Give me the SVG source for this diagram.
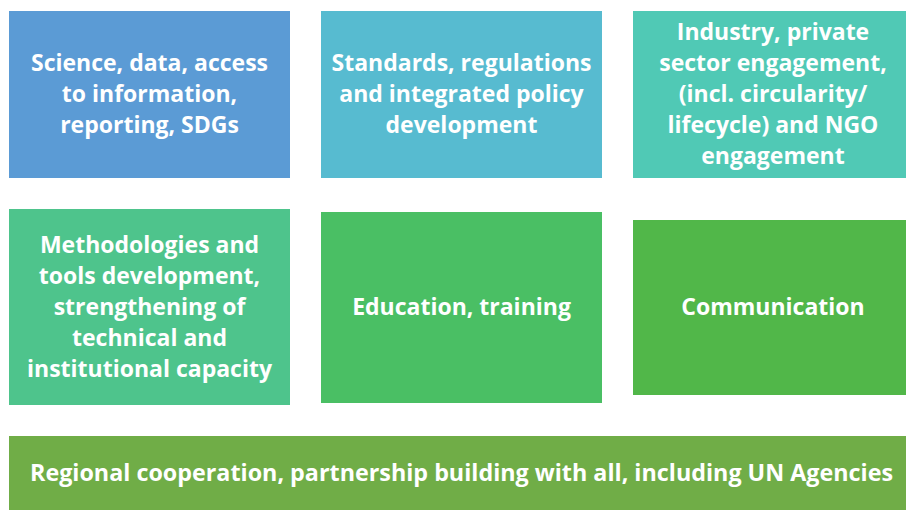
<svg xmlns="http://www.w3.org/2000/svg" width="906" height="510" viewBox="0 0 906 510">
<style>
text{font-family:"Open Sans","Liberation Sans",sans-serif;font-weight:700;font-size:23px;fill:#fff;text-anchor:middle}
</style>
<rect width="906" height="510" fill="#fff"/>
<g id="n1"><rect x="9" y="11" width="281" height="167" fill="#5B9BD5"/>
<text x="149.5" y="71">Science, data, access</text><text x="149.5" y="102">to information,</text><text x="149.5" y="133">reporting, SDGs</text></g>
<g id="n2"><rect x="321" y="11" width="281" height="167" fill="#57BBD0"/>
<text x="461.5" y="71">Standards, regulations</text><text x="461.5" y="102">and integrated policy</text><text x="461.5" y="133">development</text></g>
<g id="n3"><rect x="633" y="11" width="273" height="167" fill="#50C9B5"/>
<text x="773" y="40">Industry, private</text><text x="773" y="71">sector engagement,</text><text x="773" y="102">(incl. circularity/</text><text x="773" y="133">lifecycle) and NGO</text><text x="773" y="164">engagement</text></g>
<g id="n4"><rect x="9" y="209" width="281" height="196" fill="#4EC48C"/>
<text x="149.5" y="253">Methodologies and</text><text x="149.5" y="284">tools development,</text><text x="149.5" y="315">strengthening of</text><text x="149.5" y="346">technical and</text><text x="149.5" y="377">institutional capacity</text></g>
<g id="n5"><rect x="321" y="212" width="281" height="191" fill="#4ABF64"/>
<text x="461.5" y="315">Education, training</text></g>
<g id="n6"><rect x="633" y="220" width="273" height="175" fill="#51B749"/>
<text x="773" y="315">Communication</text></g>
<g id="n7"><rect x="9" y="436" width="897" height="74" fill="#70AD47"/>
<text x="461.5" y="481" textLength="863" lengthAdjust="spacingAndGlyphs">Regional cooperation, partnership building with all, including UN Agencies</text></g>
<g id="connectors"/>
</svg>
